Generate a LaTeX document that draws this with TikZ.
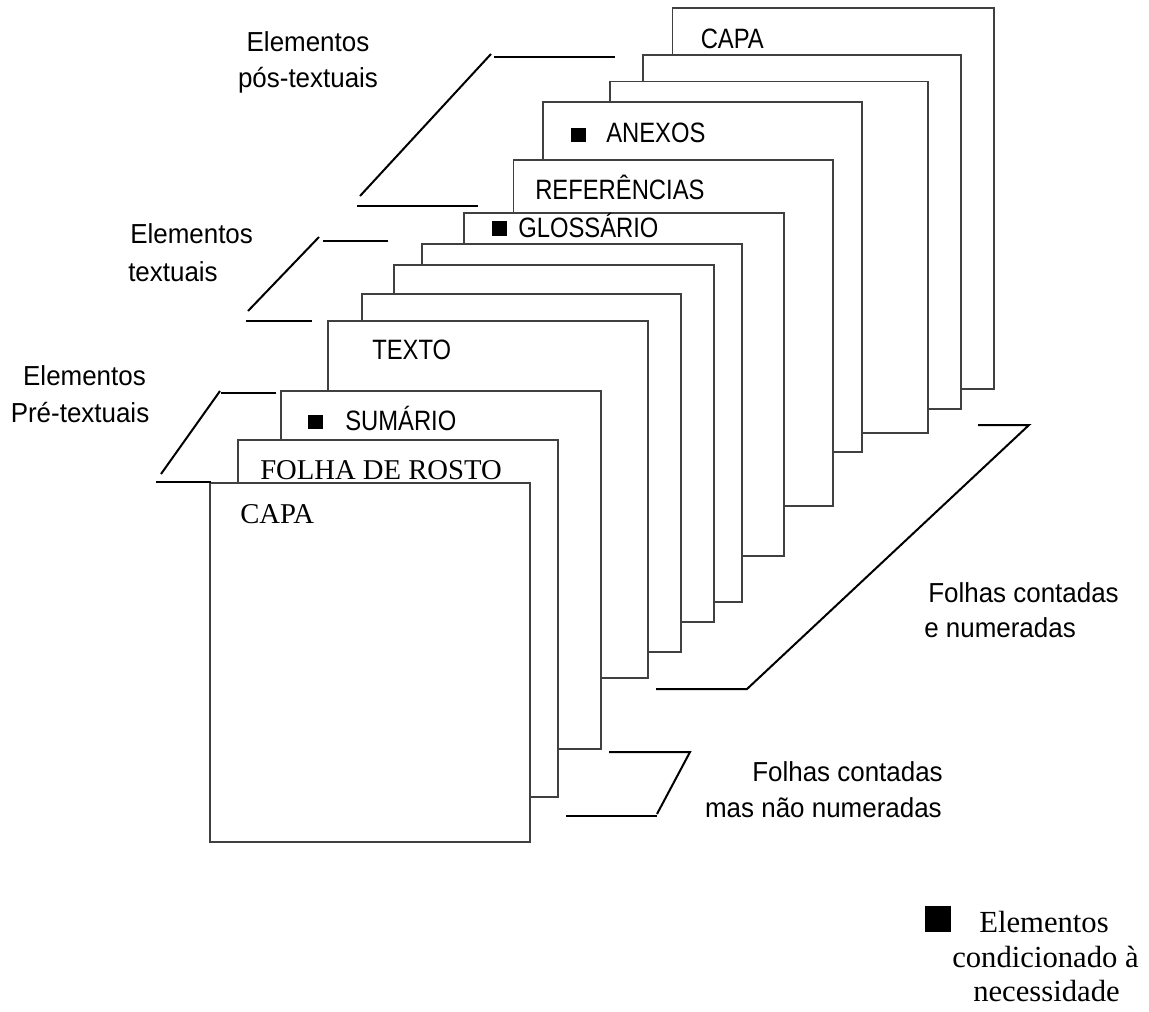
\documentclass[tikz,border=0pt]{standalone}
\usepackage{fontspec}
\setmainfont{Liberation Serif}
\newfontfamily\pgsans[FakeStretch=0.85]{Liberation Sans}
\newfontfamily\sdsans[FakeStretch=0.945]{Liberation Sans}
\newcommand\mkpage[5]{\node[page, minimum width={(#4-#2)*0.75pt}, minimum height={(#5-#3)*0.75pt}] (#1) at (#2,#3) {};}
\begin{document}
\begin{tikzpicture}[x=0.75pt,y=-0.75pt,
  page/.style={rectangle, draw=black!75, fill=white, line width=0.8pt, anchor=north west, inner sep=0pt, outer sep=0pt},
  bullet/.style={rectangle, fill=black, draw=none, anchor=north west, inner sep=0pt, outer sep=0pt},
  pglabel/.style={inner sep=0pt, anchor=base west, font=\pgsans\fontsize{21pt}{25pt}\selectfont},
  serlabel/.style={inner sep=0pt, anchor=base west, font=\fontsize{21.5pt}{26pt}\selectfont},
  side/.style={inner sep=0pt, font=\sdsans\fontsize{20.6pt}{25pt}\selectfont},
  legend/.style={inner sep=0pt, font=\fontsize{23pt}{27pt}\selectfont},
  bracket/.style={line width=1.5pt, black}]
\fill[white] (0,0) rectangle (1149,1011);
\useasboundingbox (0,0) rectangle (1149,1011);

% pages, back to front
\mkpage{p12}{672.5}{8}{994}{389}
\node[pglabel] (t12) at (700.5,48.5) {CAPA};
\mkpage{p11}{643}{55}{961}{409}
\mkpage{p10}{610}{81.5}{928}{433}
\mkpage{p9}{543}{102}{862}{452}
\node[bullet, minimum width={15*0.75pt}, minimum height={14*0.75pt}] (b9) at (570.5,128) {};
\node[pglabel] (t9) at (606,142.5) {ANEXOS};
\mkpage{p8}{513.5}{160}{833}{506}
\node[pglabel] (t8) at (535,199) {REFERÊNCIAS};
\mkpage{p7}{464}{213}{784}{556}
\node[bullet, minimum width={15*0.75pt}, minimum height={15*0.75pt}] (b7) at (492,221) {};
\node[pglabel] (t7) at (518,237) {GLOSSÁRIO};
\mkpage{p6}{422}{244}{742}{602}
\mkpage{p5}{394}{265}{714}{622}
\mkpage{p4}{362}{294}{681}{652}
\mkpage{p3}{328}{321}{648}{678}
\node[pglabel] (t3) at (372,359) {TEXTO};
\mkpage{p2}{281}{391}{601}{749}
\node[bullet, minimum width={15*0.75pt}, minimum height={14*0.75pt}] (b2) at (308,415) {};
\node[pglabel] (t2) at (345,430) {SUMÁRIO};
\mkpage{p1}{238}{440}{558}{797}
\node[serlabel] (t1) at (260,479) {FOLHA DE ROSTO};
\mkpage{p0}{210}{483}{530}{842}
\node[serlabel] (t0) at (240,523) {CAPA};

% brackets
\draw[bracket] (615,57) -- (494,57);
\draw[bracket] (491,54) -- (360,196);
\draw[bracket] (357,206) -- (478,206);

\draw[bracket] (388,241) -- (323,241);
\draw[bracket] (319,237) -- (248,311);
\draw[bracket] (246,321) -- (312,321);

\draw[bracket] (276,393) -- (221,393);
\draw[bracket] (220,391) -- (161,474);
\draw[bracket] (156,482) -- (211,482);

\draw[bracket] (978,425) -- (1029,425) -- (747,689) -- (656,689);

\draw[bracket] (609,752) -- (690,752) -- (657,814) ;
\draw[bracket] (566,816) -- (657,816);

% side labels
\node[side, anchor=base] (l1a) at (308,51) {Elementos};
\node[side, anchor=base] (l1b) at (308,87) {pós-textuais};
\node[side, anchor=base west] (l2a) at (130,243) {Elementos};
\node[side, anchor=base west] (l2b) at (128,281) {textuais};
\node[side, anchor=base] (l3a) at (84.5,385) {Elementos};
\node[side, anchor=base] (l3b) at (80,422) {Pré-textuais};
\node[side, anchor=base west] (l4a) at (928,602) {Folhas contadas};
\node[side, anchor=base west] (l4b) at (924,637) {e numeradas};
\node[side, anchor=base east] (l5a) at (943,781) {Folhas contadas};
\node[side, anchor=base east] (l5b) at (942,817) {mas não numeradas};

% legend
\node[bullet, minimum size={26*0.75pt}] (lsq) at (925,906) {};
\node[legend, anchor=base west] (lga) at (979,932) {Elementos};
\node[legend, anchor=base] (lgb) at (1045.5,967) {condicionado à};
\node[legend, anchor=base] (lgc) at (1046.5,1001) {necessidade};
\end{tikzpicture}
\end{document}
